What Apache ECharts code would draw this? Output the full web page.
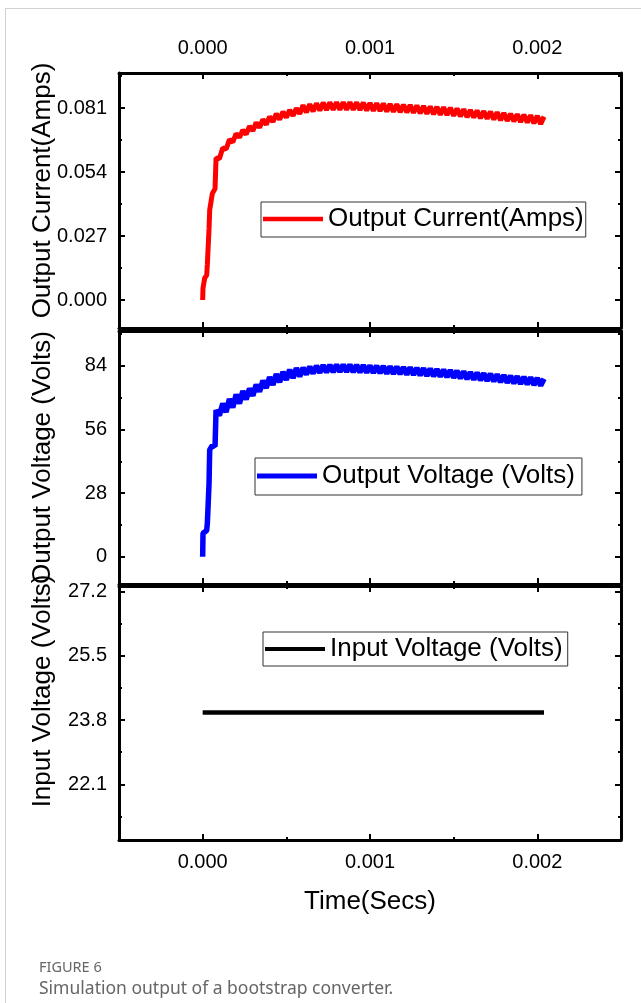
<!DOCTYPE html>
<html>
<head>
<meta charset="utf-8" />
<title>Simulation output of a bootstrap converter</title>
<script src="https://cdn.jsdelivr.net/npm/echarts@6.0.0/dist/echarts.min.js"></script>
<style>
    *{
        margin:0;
        padding:0;
    }
    html, body{
        width:641px;
        height:1003px;
        background:#fff;
        overflow:hidden;
    }
    /* thin card frame round the figure */
    #card{
        position:absolute;
        left:5px;
        top:8px;
        width:640px;
        height:1000px;
        border-left:1px solid #d2d2d2;
        border-top:1px solid #d2d2d2;
    }
    #main{
        position:absolute;
        left:0;
        top:0;
        width:641px;
        height:1003px;
    }
</style>
</head>
<body>
<div id="card"></div>
<div id="main"></div>
<script type="text/javascript">
    // sample times in microseconds (shared by current and output voltage)
    var timeUs = [0, 2, 12, 24, 28, 38, 42, 58, 74,
        80, 100, 120, 140, 160, 180, 200, 220, 240, 260, 280, 300, 320, 340, 360, 380,
        400, 420, 440, 460, 480, 500, 520, 540, 560, 580,
        600, 620, 640, 660, 680, 700, 720, 740, 760, 780, 800, 820, 840, 860, 880, 900,
        920, 940, 960, 980, 1000, 1020, 1040, 1060, 1080, 1100, 1120, 1140, 1160, 1180,
        1200, 1220, 1240, 1260, 1280, 1300, 1320, 1340, 1360, 1380, 1400, 1420, 1440, 1460,
        1480, 1500, 1520, 1540, 1560, 1580, 1600, 1620, 1640, 1660, 1680, 1700, 1720, 1740,
        1760, 1780, 1800, 1820, 1840, 1860, 1880, 1900, 1920, 1940, 1960, 1980, 2000, 2020, 2040];

    var currentAmps = [0, 0.005, 0.0092, 0.0105, 0.015, 0.030, 0.038, 0.045, 0.047,
        0.0600, 0.0596, 0.0642, 0.0636, 0.0677, 0.0666, 0.0702, 0.0686, 0.0717, 0.0699, 0.0734, 0.0714, 0.0749, 0.0728, 0.0762, 0.0740,
        0.0774, 0.0752, 0.0786, 0.0762, 0.0794, 0.0770, 0.0802, 0.0778, 0.0809, 0.0786,
        0.0822, 0.0792, 0.0826, 0.0796, 0.0830, 0.0800, 0.0833, 0.0802, 0.0834, 0.0803, 0.0835, 0.0803, 0.0835, 0.0803, 0.0835, 0.0803,
        0.0834, 0.0802, 0.0833, 0.0800, 0.0831, 0.0799, 0.0830, 0.0798, 0.0829, 0.0796, 0.0827, 0.0795, 0.0826, 0.0793,
        0.0824, 0.0792, 0.0823, 0.0790, 0.0821, 0.0788, 0.0819, 0.0786, 0.0817, 0.0784, 0.0815, 0.0782, 0.0813, 0.0781,
        0.0811, 0.0778, 0.0808, 0.0775, 0.0805, 0.0772, 0.0802, 0.0770, 0.0800, 0.0767, 0.0797, 0.0765, 0.0795, 0.0762,
        0.0792, 0.0759, 0.0789, 0.0756, 0.0786, 0.0754, 0.0784, 0.0751, 0.0782, 0.0749, 0.0780, 0.0746, 0.0777, 0.0743, 0.0774];

    var outputVolts = [0, 10.3, 11, 11.5, 14.8, 32, 47, 49, 48.5,
        64.5, 62.1, 67.4, 63.6, 69.4, 65.6, 71.4, 67.4, 72.9, 69.2, 74.0, 70.8, 75.7, 72.6, 77.5, 74.2,
        79.0, 75.6, 80.3, 76.8, 81.3, 77.8, 82.3, 78.6, 83.0, 79.3,
        83.2, 80.2, 83.6, 80.6, 84.0, 80.95, 84.3, 81.15, 84.4, 81.25, 84.5, 81.3, 84.5, 81.3, 84.5, 81.25,
        84.4, 81.15, 84.3, 81.0, 84.1, 80.85, 84.0, 80.75, 83.9, 80.6, 83.7, 80.45, 83.6, 80.3,
        83.4, 80.15, 83.3, 80.0, 83.1, 79.8, 82.9, 79.6, 82.7, 79.4, 82.5, 79.2, 82.3, 79.0,
        82.1, 78.75, 81.8, 78.45, 81.5, 78.15, 81.2, 77.9, 81.0, 77.65, 80.7, 77.4, 80.5, 77.15,
        80.2, 76.85, 79.9, 76.55, 79.6, 76.3, 79.4, 76.05, 79.1, 75.8, 78.9, 75.55, 78.6, 75.25, 78.3];

    var inputTimeUs = [0, 2040];
    var inputVolts = [24, 24];

    // tick labels
    var timeTicks = [0, 0.001, 0.002];
    var timeMinorTicks = [0.0005, 0.0015];
    var currentTicks = [0, 0.027, 0.054, 0.081];
    var currentMinorTicks = [0.0135, 0.0405, 0.0675, 0.0945];
    var outVoltTicks = [0, 28, 56, 84];
    var outVoltMinorTicks = [14, 42, 70, 98];
    var inVoltTicks = [22.1, 23.8, 25.5, 27.2];
    var inVoltMinorTicks = [21.25, 22.95, 24.65, 26.35];

    var FONT = '"Liberation Sans", Arial, sans-serif';
    var CAPTION_FONT = '"Noto Sans", "Open Sans", sans-serif';

    function pairs(ts, vs) {
        return ts.map(function (t, i) { return [t / 1e6, vs[i]]; });
    }

    var panels = [
        {top: 73, height: 255, yMin: -0.0118, yMax: 0.0958, ticks: currentTicks, minor: currentMinorTicks,
            digits: 3, name: 'Output Current(Amps)', nameShift: 20, color: '#ff0000', width: 5,
            data: pairs(timeUs, currentAmps), legend: {left: 261, top: 202, padding: [4, 2, 5, 2]}},
        {top: 331, height: 253, yMin: -12, yMax: 99.3, ticks: outVoltTicks, minor: outVoltMinorTicks,
            digits: 0, name: 'Output Voltage (Volts)', nameShift: 0, color: '#0000ff', width: 5.5,
            data: pairs(timeUs, outputVolts), legend: {left: 255, top: 458, padding: [5, 7, 6, 2]}},
        {top: 586, height: 254, yMin: 20.625, yMax: 27.35, ticks: inVoltTicks, minor: inVoltMinorTicks,
            digits: 1, name: 'Input Voltage (Volts)', nameShift: 44, color: '#000000', width: 4.5,
            data: pairs(inputTimeUs, inputVolts), legend: {left: 263, top: 632, padding: [4, 5, 4, 2]}}
    ];

    var grids = [], xAxes = [], yAxes = [], series = [], legends = [];

    function edgeAxis(gi, pos, min, max, ticks, len, showLine) {
        return {
            type: 'value', gridIndex: gi, position: pos, min: min, max: max,
            axisLine: {show: showLine, onZero: false, lineStyle: {color: '#000', width: 3}},
            axisTick: {show: true, inside: true, length: len, customValues: ticks,
                lineStyle: {color: '#000', width: 2}},
            axisLabel: {show: false},
            splitLine: {show: false}
        };
    }

    panels.forEach(function (p, i) {
        grids.push({left: 119, right: 20, top: p.top, height: p.height, outerBoundsMode: 'none'});

        var xi = xAxes.length, yi = yAxes.length;
        ['bottom', 'top'].forEach(function (pos) {
            var major = edgeAxis(i, pos, -0.0005, 0.0025, timeTicks, 6, true);
            if ((pos === 'top' && i === 0) || (pos === 'bottom' && i === 2)) {
                major.axisLabel = {
                    show: true, customValues: timeTicks, margin: pos === 'top' ? 15 : 12,
                    fontSize: 20, color: '#000', fontFamily: FONT,
                    formatter: function (v) { return v.toFixed(3); }
                };
            }
            if (pos === 'bottom' && i === 2) {
                major.name = 'Time(Secs)';
                major.nameLocation = 'middle';
                major.nameGap = 49;
                major.nameMoveOverlap = false;
                major.nameTextStyle = {fontSize: 26, color: '#000', fontFamily: FONT};
            }
            xAxes.push(major);
            xAxes.push(edgeAxis(i, pos, -0.0005, 0.0025, timeMinorTicks, 3, false));
        });
        ['left', 'right'].forEach(function (pos) {
            var major = edgeAxis(i, pos, p.yMin, p.yMax, p.ticks, 6, true);
            if (pos === 'left') {
                major.axisLabel = {
                    show: true, customValues: p.ticks, margin: 12,
                    fontSize: 20, color: '#000', fontFamily: FONT,
                    formatter: function (v) { return v.toFixed(p.digits); }
                };
                major.name = p.name;
                major.nameLocation = 'middle';
                major.nameGap = 63;
                major.nameMoveOverlap = false;
                major.nameTextStyle = {fontSize: 26, color: '#000', fontFamily: FONT,
                    padding: [0, 0, 0, p.nameShift]};
            }
            yAxes.push(major);
            yAxes.push(edgeAxis(i, pos, p.yMin, p.yMax, p.minor, 3, false));
        });

        series.push({
            name: p.name, type: 'line', xAxisIndex: xi, yAxisIndex: yi,
            data: p.data, symbol: 'none', showSymbol: false,
            lineStyle: {color: p.color, width: p.width},
            itemStyle: {color: p.color},
            animation: false
        });

        legends.push({
            data: [p.name], left: p.legend.left, top: p.legend.top, padding: p.legend.padding,
            icon: 'rect', itemWidth: 60, itemHeight: p.width - 0.5, itemGap: 0, selectedMode: false,
            borderColor: '#333', borderWidth: 1,
            textStyle: {fontSize: 26, color: '#000', fontFamily: FONT}
        });
    });

    var myChart = echarts.init(document.getElementById('main'), null, {renderer: 'canvas'});

    var option = {
        backgroundColor: 'transparent',
        animation: false,
        textStyle: {fontFamily: FONT},
        title: {
            text: 'FIGURE 6',
            subtext: 'Simulation output of a bootstrap converter.',
            left: 39, top: 960, padding: 0, itemGap: 5,
            textStyle: {fontSize: 14.5, fontWeight: 'normal', color: '#666', fontFamily: CAPTION_FONT},
            subtextStyle: {fontSize: 17.5, color: '#666', fontFamily: CAPTION_FONT}
        },
        grid: grids,
        xAxis: xAxes,
        yAxis: yAxes,
        legend: legends,
        series: series
    };

    myChart.setOption(option);
</script>
</body>
</html>
